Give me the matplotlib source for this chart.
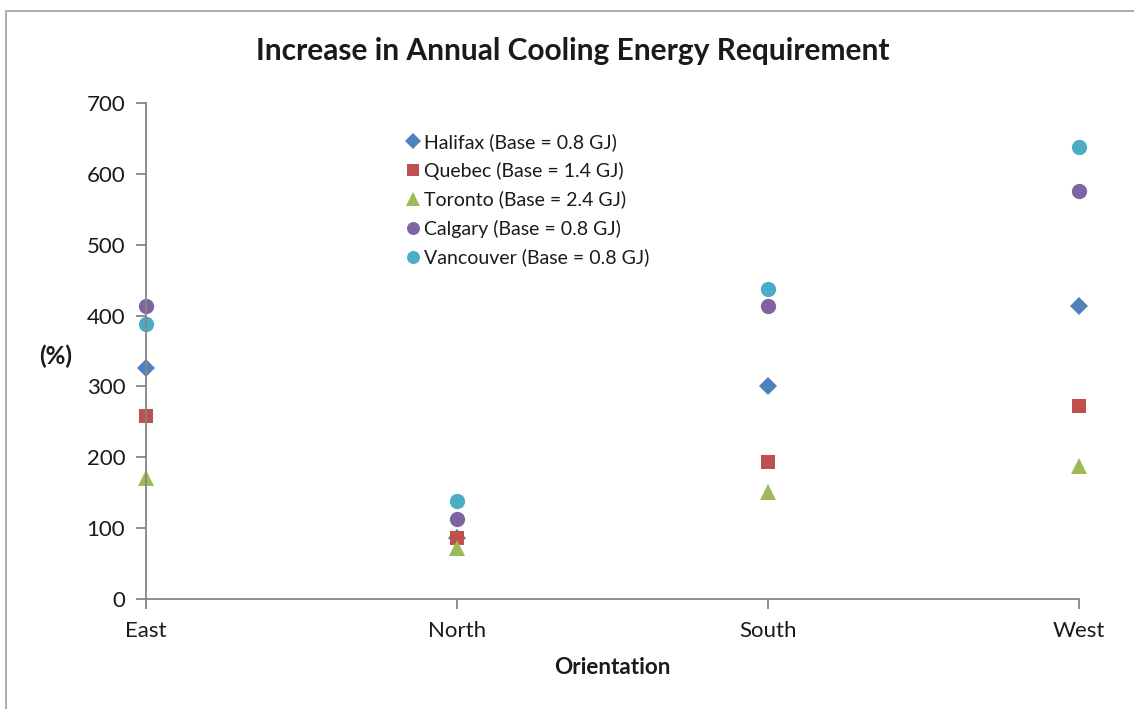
import matplotlib
matplotlib.use("Agg")
import matplotlib.pyplot as plt
from matplotlib.lines import Line2D
from matplotlib.patches import Rectangle

plt.rcParams['font.family'] = ['Lato', 'DejaVu Sans']

orientations = ["East", "North", "South", "West"]
halifax = [326, 86, 301, 413]
quebec = [258, 86, 193, 272]
toronto = [171, 72, 151, 188]
calgary = [413, 113, 413, 576]
vancouver = [388, 138, 437, 638]

series = [
    ("Halifax (Base = 0.8 GJ)", halifax, "D", "#4F81BD", 9.0),
    ("Quebec (Base = 1.4 GJ)", quebec, "s", "#C0504D", 10.5),
    ("Toronto (Base = 2.4 GJ)", toronto, "^", "#9BBB59", 11.5),
    ("Calgary (Base = 0.8 GJ)", calgary, "o", "#8064A2", 11.0),
    ("Vancouver (Base = 0.8 GJ)", vancouver, "o", "#4BACC6", 11.0),
]

W, H = 1134, 709
fig = plt.figure(figsize=(W / 100, H / 100), dpi=100)
fig.patch.set_facecolor("white")

# chart area border
fig.patches.append(Rectangle((6 / W, -0.1), 1.2, 1 - 11 / H + 0.1,
                             transform=fig.transFigure, fill=False,
                             edgecolor="#A6A6A6", linewidth=1.3))

ax = fig.add_axes([146 / W, 1 - 599 / H, (1079 - 146) / W, (599 - 103) / H])
x = list(range(len(orientations)))
for name, vals, mk, col, ms in series:
    ax.plot(x, vals, linestyle="none", marker=mk, color=col, markersize=ms,
            markeredgewidth=0, label=name, clip_on=False)

ax.set_xlim(0, 3)
ax.set_ylim(0, 700)
ax.set_yticks(range(0, 701, 100))
ax.set_xticks(x)
ax.set_xticklabels(orientations)

axis_col = "#868686"
for s in ["top", "right"]:
    ax.spines[s].set_visible(False)
for s in ["left", "bottom"]:
    ax.spines[s].set_color(axis_col)
    ax.spines[s].set_linewidth(1.3)
ax.tick_params(axis="both", colors=axis_col, length=7, width=1.3,
               labelcolor="#1a1a1a", labelsize=16)
ax.tick_params(axis="y", pad=8)
ax.tick_params(axis="x", pad=9)

fig.text(573 / W, 1 - 51 / H, "Increase in Annual Cooling Energy Requirement",
         ha="center", va="center", fontsize=21.5, fontweight="bold", color="#1a1a1a")
fig.text(56 / W, 1 - 356 / H, "(%)", ha="center", va="center",
         fontsize=17.5, fontweight="bold", color="#1a1a1a")
fig.text(612 / W, 1 - 668 / H, "Orientation", ha="center", va="center",
         fontsize=16.2, fontweight="bold", color="#1a1a1a")

handles = [Line2D([], [], linestyle="none", marker=mk, color=col,
                  markersize=ms * 0.85, markeredgewidth=0)
           for _, _, mk, col, ms in series]
leg = ax.legend(handles, [s[0] for s in series], loc="upper left",
                bbox_to_anchor=((407 - 146) / (1079 - 146), (599 - 133) / (599 - 103)),
                frameon=False, fontsize=14, handlelength=0.65, handletextpad=0.25,
                labelspacing=0.56, borderpad=0, borderaxespad=0)
for t in leg.get_texts():
    t.set_color("#1a1a1a")

fig.savefig("out.png", dpi=100, facecolor="white")
